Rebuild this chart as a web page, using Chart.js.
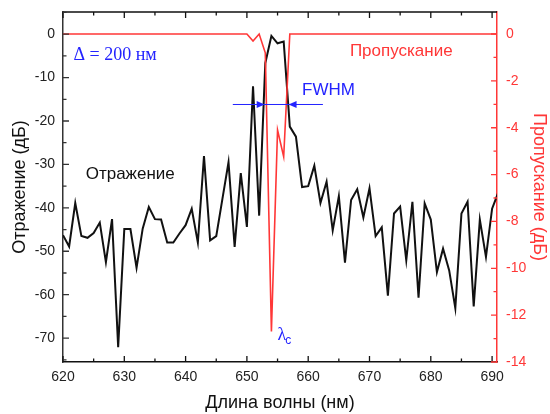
<!DOCTYPE html>
<html>
<head>
<meta charset="utf-8">
<script src="https://cdn.jsdelivr.net/npm/chart.js@4.4.1/dist/chart.umd.min.js"></script>
<style>
  html, body { margin: 0; padding: 0; background: #fff; }
  #wrap { width: 550px; height: 414px; }
</style>
</head>
<body>
<div id="wrap"><canvas id="spectrum" width="550" height="414"></canvas></div>
<script>
// Длина волны, нм
const wavelengths = [
  620, 621, 622, 623, 624, 625, 626, 627, 628, 629,
  630, 631, 632, 633, 634, 635, 636, 637, 638, 639,
  640, 641, 642, 643, 644, 645, 646, 647, 648, 649,
  650, 651, 652, 653, 654, 655, 656, 657, 658, 659,
  660, 661, 662, 663, 664, 665, 666, 667, 668, 669,
  670, 671, 672, 673, 674, 675, 676, 677, 678, 679,
  680, 681, 682, 683, 684, 685, 686, 687, 688, 689,
  690, 691
];
// Отражение, дБ (левая ось)
const reflection = [
  -46.3, -48.9, -38.9, -46.5, -46.9, -45.8, -43.4, -52.5, -42.6, -72.1,
  -44.9, -44.9, -53.8, -44.8, -39.8, -42.6, -42.7, -48.0, -48.0, -45.9,
  -44.0, -40.2, -48.0, -28.1, -47.5, -46.5, -38.0, -29.5, -49.0, -32.0,
  -44.4, -12.0, -41.8, -6.7, -0.4, -2.1, -1.7, -21.3, -23.6, -35.2,
  -35.0, -30.3, -38.9, -34.0, -45.2, -37.3, -52.6, -38.2, -35.7, -42.2,
  -35.5, -46.5, -44.5, -60.2, -41.3, -39.7, -52.1, -38.6, -60.7, -39.0,
  -42.7, -54.8, -49.4, -54.4, -63.1, -41.3, -38.6, -62.7, -42.7, -51.3,
  -40.2, -36.5
];
// Пропускание, дБ (правая ось)
const transmission = [
  0, 0, 0, 0, 0, 0, 0, 0, 0, 0,
  0, 0, 0, 0, 0, 0, 0, 0, 0, 0,
  0, 0, 0, 0, 0, 0, 0, 0, 0, 0,
  0, -0.3, 0, -0.8, -12.7, -4.1, -5.24, 0, 0, 0,
  0, 0, 0, 0, 0, 0, 0, 0, 0, 0,
  0, 0, 0, 0, 0, 0, 0, 0, 0, 0,
  0, 0, 0, 0, 0, 0, 0, 0, 0, 0,
  0, 0
];

// подписи делений
const xTickValues = [620, 630, 640, 650, 660, 670, 680, 690];
const leftTickValues = [-70, -60, -50, -40, -30, -20, -10, 0];
const rightTickValues = [-14, -12, -10, -8, -6, -4, -2, 0];

// пометки на графике: [длина волны, дБ по левой оси]
const reflLabelAt = [623.7, -32.2];
const transLabelAt = [666.8, -4.0];
const deltaLabelAt = [621.7, -4.8];
const fwhmLabelAt = [659.0, -12.9];
const fwhmLevel = -16.2;
const fwhmSpan = [647.7, 662.4];
const fwhmArrows = [652.9, 656.8];
const lambdaAt = [655.0, -69.4];

const red = 'rgb(255, 55, 55)';
const blue = 'rgb(35, 35, 255)';
const ink = '#111';
const sans = 'Liberation Sans';

// засечки внутрь, как в Origin
function minorValues(scale) {
  const vals = scale.ticks.map(t => t.value).sort((a, b) => a - b);
  const step = vals[1] - vals[0];
  const out = [];
  for (let i = -1; i < vals.length; i++) {
    const v = (i < 0 ? vals[0] - step : vals[i]) + step / 2;
    if (v >= scale.min && v <= scale.max) out.push(v);
  }
  return out;
}

const inwardTicks = {
  id: 'inwardTicks',
  afterDraw(chart) {
    const { ctx, chartArea: a, scales } = chart;
    const big = 6, small = 3.5;
    ctx.save();
    ctx.lineWidth = 1.3;

    // верхняя рамка и засечки по X
    ctx.strokeStyle = ink;
    ctx.beginPath();
    ctx.moveTo(a.left, a.top);
    ctx.lineTo(a.right, a.top);
    const sx = scales.x;
    sx.ticks.forEach(t => {
      const px = sx.getPixelForValue(t.value);
      ctx.moveTo(px, a.bottom); ctx.lineTo(px, a.bottom - big);
      ctx.moveTo(px, a.top); ctx.lineTo(px, a.top + big);
    });
    minorValues(sx).forEach(v => {
      const px = sx.getPixelForValue(v);
      ctx.moveTo(px, a.bottom); ctx.lineTo(px, a.bottom - small);
      ctx.moveTo(px, a.top); ctx.lineTo(px, a.top + small);
    });
    ctx.stroke();

    // левая ось
    const sy = scales.y;
    ctx.strokeStyle = '#333';
    ctx.beginPath();
    sy.ticks.forEach(t => {
      const py = sy.getPixelForValue(t.value);
      ctx.moveTo(a.left, py); ctx.lineTo(a.left + big, py);
    });
    minorValues(sy).forEach(v => {
      const py = sy.getPixelForValue(v);
      ctx.moveTo(a.left, py); ctx.lineTo(a.left + small, py);
    });
    ctx.stroke();

    // правая ось
    const sr = scales.y1;
    ctx.strokeStyle = red;
    ctx.beginPath();
    sr.ticks.forEach(t => {
      const py = sr.getPixelForValue(t.value);
      ctx.moveTo(a.right, py); ctx.lineTo(a.right - big, py);
    });
    minorValues(sr).forEach(v => {
      const py = sr.getPixelForValue(v);
      ctx.moveTo(a.right, py); ctx.lineTo(a.right - small, py);
    });
    ctx.stroke();
    ctx.restore();
  }
};

function arrowHead(ctx, tipX, tipY, dir) {
  ctx.beginPath();
  ctx.moveTo(tipX, tipY);
  ctx.lineTo(tipX - dir * 8, tipY - 3.5);
  ctx.lineTo(tipX - dir * 8, tipY + 3.5);
  ctx.closePath();
  ctx.fill();
}

const notes = {
  id: 'notes',
  afterDraw(chart) {
    const { ctx, scales: { x, y } } = chart;
    const px = v => x.getPixelForValue(v);
    const py = v => y.getPixelForValue(v);
    ctx.save();
    ctx.textAlign = 'left';
    ctx.textBaseline = 'middle';

    ctx.fillStyle = ink;
    ctx.font = `17px "${sans}"`;
    ctx.fillText('Отражение', px(reflLabelAt[0]), py(reflLabelAt[1]));

    ctx.fillStyle = red;
    ctx.fillText('Пропускание', px(transLabelAt[0]), py(transLabelAt[1]));

    ctx.fillStyle = blue;
    ctx.fillText('FWHM', px(fwhmLabelAt[0]), py(fwhmLabelAt[1]));
    ctx.font = '18px "Liberation Serif"';
    ctx.fillText('Δ = 200 нм', px(deltaLabelAt[0]), py(deltaLabelAt[1]));

    // λc
    ctx.font = '18px "Liberation Serif"';
    const lx = px(lambdaAt[0]), ly = py(lambdaAt[1]);
    ctx.fillText('λ', lx, ly);
    const lw = ctx.measureText('λ').width;
    ctx.font = `12px "${sans}"`;
    ctx.fillText('c', lx + lw - 1, ly + 5);

    // стрелки FWHM
    ctx.strokeStyle = blue;
    ctx.lineWidth = 1;
    const ly2 = py(fwhmLevel);
    ctx.beginPath();
    ctx.moveTo(px(fwhmSpan[0]), ly2);
    ctx.lineTo(px(fwhmSpan[1]), ly2);
    ctx.stroke();
    arrowHead(ctx, px(fwhmArrows[0]), ly2, 1);
    arrowHead(ctx, px(fwhmArrows[1]), ly2, -1);
    ctx.restore();
  }
};

const ctx = document.getElementById('spectrum').getContext('2d');
new Chart(ctx, {
  type: 'line',
  data: {
    datasets: [
      {
        label: 'Пропускание',
        data: wavelengths.map((w, i) => ({ x: w, y: transmission[i] })),
        yAxisID: 'y1',
        borderColor: red,
        borderWidth: 1.6,
        pointRadius: 0,
        tension: 0,
        order: 0
      },
      {
        label: 'Отражение',
        data: wavelengths.map((w, i) => ({ x: w, y: reflection[i] })),
        yAxisID: 'y',
        borderColor: ink,
        borderWidth: 2,
        pointRadius: 0,
        tension: 0,
        order: 1
      }
    ]
  },
  options: {
    responsive: false,
    animation: false,
    layout: { padding: { top: 12, left: 0, right: 0, bottom: 0 } },
    plugins: {
      legend: { display: false },
      tooltip: { enabled: false }
    },
    scales: {
      x: {
        type: 'linear',
        position: 'bottom',
        min: 620,
        max: 690.8,
        afterBuildTicks: s => { s.ticks = xTickValues.map(v => ({ value: v })); },
        afterFit: s => { s.height = 52; s.paddingLeft = 0; s.paddingRight = 0; },
        grid: { display: false, drawTicks: false },
        border: { display: true, color: ink, width: 1.5 },
        ticks: { padding: 7, color: '#222', font: { family: sans, size: 14 } },
        title: {
          display: true, text: 'Длина волны (нм)', color: ink,
          font: { family: sans, size: 18 }, padding: { top: 0, bottom: 0 }
        }
      },
      y: {
        position: 'left',
        min: -75.5,
        max: 5.1,
        afterBuildTicks: s => { s.ticks = leftTickValues.map(v => ({ value: v })); },
        afterFit: s => { s.width = 63; s.paddingTop = 0; s.paddingBottom = 0; },
        grid: { display: false, drawTicks: false },
        border: { display: true, color: '#333', width: 1.5 },
        ticks: { padding: 8, color: '#222', font: { family: sans, size: 14 } },
        title: {
          display: true, text: 'Отражение (дБ)', color: ink,
          font: { family: sans, size: 18 }, padding: { top: 9, bottom: 0 }
        }
      },
      y1: {
        position: 'right',
        min: -14,
        max: 0.94,
        afterBuildTicks: s => { s.ticks = rightTickValues.map(v => ({ value: v })); },
        afterFit: s => { s.width = 53; s.paddingTop = 0; s.paddingBottom = 0; },
        grid: { display: false, drawTicks: false },
        border: { display: true, color: red, width: 1.5 },
        ticks: { padding: 9, color: red, font: { family: sans, size: 14 } },
        title: {
          display: true, text: 'Пропускание (дБ)', color: red,
          font: { family: sans, size: 18 }, padding: { top: 0, bottom: 0 }
        }
      }
    }
  },
  plugins: [inwardTicks, notes]
});
</script>
</body>
</html>
